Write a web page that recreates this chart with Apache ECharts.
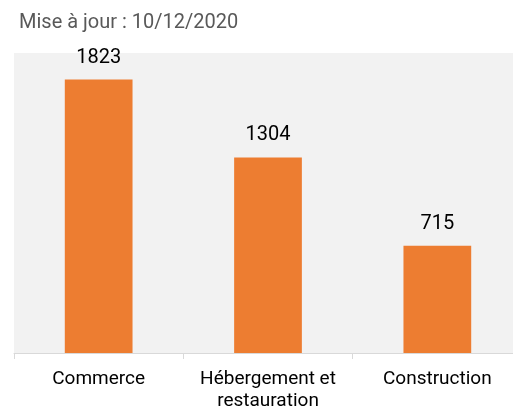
<!DOCTYPE html>
<html>
<head>
<meta charset="utf-8">
<script src="https://cdn.jsdelivr.net/npm/echarts@6/dist/echarts.min.js"></script>
<style>
html,body{margin:0;padding:0;background:#fff;overflow:hidden;}
#chart{width:513px;height:406px;}
</style>
</head>
<body>
<div id="chart"></div>
<script>
const categories = ["Commerce", "Hébergement et\nrestauration", "Construction"];
const values = [1823, 1304, 715];
const titleText = "Mise à jour : 10/12/2020";

const chart = echarts.init(document.getElementById('chart'), null, {renderer: 'canvas'});
chart.setOption({
  animation: false,
  backgroundColor: '#ffffff',
  title: {
    text: titleText,
    left: 14, top: 8,
    textStyle: {fontFamily: 'Roboto', fontSize: 20, fontWeight: 'normal', color: '#595959'}
  },
  grid: {left: 14, right: -9, top: 53, bottom: 53, show: true, backgroundColor: '#f2f2f2', borderWidth: 0, outerBoundsMode: 'none', containLabel: false},
  xAxis: {
    type: 'category',
    data: categories,
    axisLine: {lineStyle: {color: '#d9d9d9', width: 1}},
    axisTick: {show: true, interval: 0, length: 6, lineStyle: {color: '#d9d9d9'}},
    axisLabel: {interval: 0, hideOverlap: false, fontFamily: 'Roboto', fontSize: 19, color: '#000000', margin: 15, lineHeight: 22}
  },
  yAxis: {
    type: 'value', min: 0, max: 2000,
    show: false, splitLine: {show: false}
  },
  series: [{
    type: 'bar',
    data: values,
    barWidth: '40%',
    itemStyle: {color: '#ed7d31'},
    label: {show: true, position: 'top', distance: 12, fontFamily: 'Roboto', fontSize: 20, color: '#000000'}
  }]
});
</script>
</body>
</html>
